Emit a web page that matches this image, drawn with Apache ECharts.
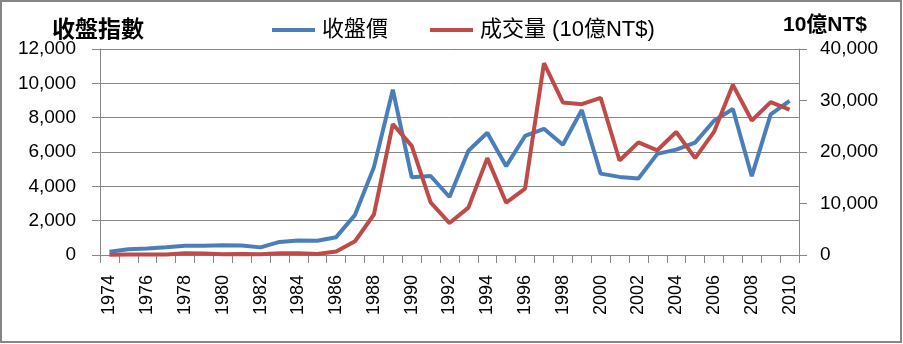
<!DOCTYPE html>
<html>
<head>
<meta charset="utf-8">
<script src="https://cdn.jsdelivr.net/npm/echarts@6/dist/echarts.min.js"></script>
<style>
  html, body { margin: 0; padding: 0; background: #fff; }
  #chart { width: 903px; height: 344px; }
</style>
</head>
<body>
<div id="chart"></div>
<script>
// Taiwan stock market: year-end index (left axis) and annual turnover (right axis)
const years = ['1974','1975','1976','1977','1978','1979','1980','1981','1982','1983',
  '1984','1985','1986','1987','1988','1989','1990','1991','1992','1993',
  '1994','1995','1996','1997','1998','1999','2000','2001','2002','2003',
  '2004','2005','2006','2007','2008','2009','2010'];

const closingIndex = [190, 340, 372, 448, 545, 546, 568, 552, 444, 762,
  839, 835, 1039, 2339, 5119, 9624, 4530, 4600, 3377, 6070,
  7124, 5174, 6933, 7350, 6418, 8448, 4739, 4550, 4452, 5890,
  6140, 6548, 7823, 8506, 4591, 8188, 8973];

const turnover = [33, 80, 98, 99, 359, 272, 162, 209, 134, 363,
  324, 195, 676, 2669, 7868, 25408, 21200, 10200, 6200, 9200,
  18812, 10151, 12907, 37241, 29619, 29292, 30527, 18355, 21874, 20333,
  23875, 18819, 23900, 33044, 26116, 29680, 28218];

const seriesNames = ['收盤價', '成交量 (10億NT$)'];
const leftTitle = '收盤指數';
const rightTitle = '10億NT$';

const gridGray = '#868686';
const numFont = "'Liberation Sans', 'Noto Sans CJK TC', sans-serif";
const cjkFont = "'Liberation Sans', 'Noto Sans CJK TC', sans-serif";

const fmt = v => v.toLocaleString('en-US');

const chart = echarts.init(document.getElementById('chart'), null, { renderer: 'canvas' });

chart.setOption({
  animation: false,
  backgroundColor: '#fff',
  grid: { left: 100, right: 104, top: 49, bottom: 89, containLabel: false },
  graphic: [
    {
      type: 'rect', silent: true,
      shape: { x: 1, y: 1, width: 900, height: 341 },
      style: { fill: 'none', stroke: gridGray, lineWidth: 2 }
    },
    {
      type: 'text', x: 52, y: 28,
      style: { text: leftTitle, font: "bold 23px 'Noto Sans CJK TC', sans-serif", fill: '#000', verticalAlign: 'middle' }
    },
    {
      type: 'text', x: 783, y: 25,
      style: { text: rightTitle, font: "bold 21px 'Liberation Sans', 'Noto Sans CJK TC', sans-serif", fill: '#000', verticalAlign: 'middle' }
    }
  ],
  legend: {
    data: seriesNames,
    left: 267, top: 13,
    icon: 'rect', itemWidth: 43, itemHeight: 4, itemGap: 42,
    textStyle: { fontFamily: cjkFont, fontSize: 22, color: '#000', lineHeight: 24, padding: [0, 0, 0, 2] }
  },
  xAxis: {
    type: 'category',
    data: years,
    boundaryGap: true,
    axisLine: { lineStyle: { color: gridGray, width: 1 } },
    axisTick: { show: true, interval: 0, length: 8, lineStyle: { color: gridGray } },
    axisLabel: { interval: 1, rotate: 90, margin: 20, fontFamily: numFont, fontSize: 18, color: '#000' },
    splitLine: { show: false }
  },
  yAxis: [
    {
      type: 'value', min: 0, max: 12000, interval: 2000,
      axisLine: { show: true, lineStyle: { color: gridGray } },
      axisTick: { show: true, length: 8, lineStyle: { color: gridGray } },
      axisLabel: { margin: 24, fontFamily: numFont, fontSize: 19, color: '#000', formatter: fmt },
      splitLine: { show: true, lineStyle: { color: gridGray, width: 1 } }
    },
    {
      type: 'value', min: 0, max: 40000, interval: 10000,
      position: 'right',
      axisLine: { show: true, lineStyle: { color: gridGray } },
      axisTick: { show: true, length: 8, lineStyle: { color: gridGray } },
      axisLabel: { margin: 21, fontFamily: numFont, fontSize: 19, color: '#000', formatter: fmt },
      splitLine: { show: false }
    }
  ],
  series: [
    {
      name: seriesNames[0], type: 'line', yAxisIndex: 0,
      data: closingIndex, symbol: 'none', smooth: false,
      lineStyle: { color: '#4A7EBB', width: 4 },
      itemStyle: { color: '#4A7EBB' }, z: 2
    },
    {
      name: seriesNames[1], type: 'line', yAxisIndex: 1,
      data: turnover, symbol: 'none', smooth: false,
      lineStyle: { color: '#BE4B48', width: 4 },
      itemStyle: { color: '#BE4B48' }, z: 3
    }
  ]
});
</script>
</body>
</html>
